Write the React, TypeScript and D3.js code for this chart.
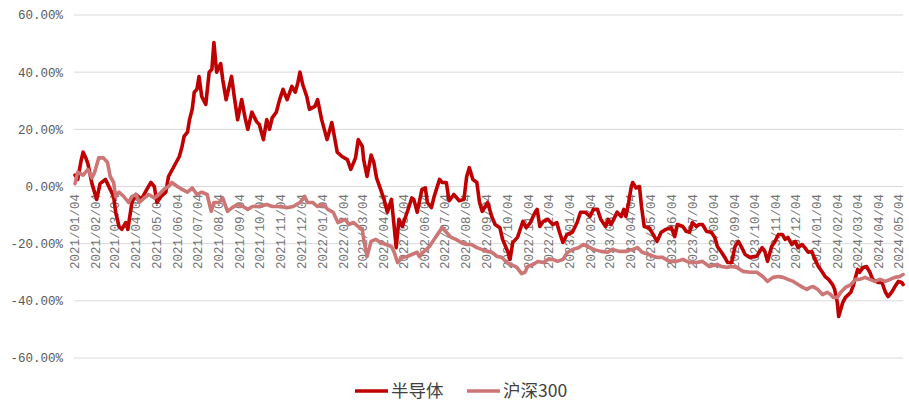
import React from "react";
import * as d3 from "d3";

const seriesNames = ["半导体", "沪深300"];

const semiconductor: [string, number][] = [
  ["2021-01-04", 4], ["2021-01-08", 2.5], ["2021-01-13", 9], ["2021-01-16", 12], ["2021-01-20", 10],
  ["2021-01-23", 8], ["2021-01-29", 1], ["2021-02-05", -4.5], ["2021-02-10", 1], ["2021-02-18", 2.5],
  ["2021-02-25", -1], ["2021-03-02", -3.5], ["2021-03-05", -9], ["2021-03-10", -14], ["2021-03-14", -15],
  ["2021-03-20", -12.6], ["2021-03-23", -15], ["2021-03-29", -5.6], ["2021-04-04", -2.8], ["2021-04-12", -4.5],
  ["2021-04-20", -1], ["2021-04-26", 1.4], ["2021-05-01", 0], ["2021-05-05", -5.6], ["2021-05-11", -3.5],
  ["2021-05-18", -2], ["2021-05-22", 3.5], ["2021-05-30", 7], ["2021-06-07", 10.5], ["2021-06-11", 14],
  ["2021-06-14", 17.5], ["2021-06-19", 19], ["2021-06-22", 23.4], ["2021-06-26", 27], ["2021-06-29", 33],
  ["2021-07-03", 34], ["2021-07-06", 38.5], ["2021-07-10", 31.5], ["2021-07-16", 28.7], ["2021-07-21", 40],
  ["2021-07-25", 41], ["2021-07-28", 50.4], ["2021-08-01", 40], ["2021-08-07", 43], ["2021-08-10", 37.4],
  ["2021-08-15", 30.4], ["2021-08-23", 38.5], ["2021-08-27", 31.5], ["2021-09-01", 23.4], ["2021-09-07", 30.4],
  ["2021-09-12", 24], ["2021-09-16", 20], ["2021-09-22", 26], ["2021-09-29", 22.7], ["2021-10-03", 21.7],
  ["2021-10-09", 16.4], ["2021-10-14", 23.4], ["2021-10-18", 20], ["2021-10-22", 24], ["2021-10-28", 26],
  ["2021-11-02", 30.4], ["2021-11-07", 34], ["2021-11-13", 30.4], ["2021-11-20", 35], ["2021-11-25", 33],
  ["2021-11-29", 36.4], ["2021-12-02", 40], ["2021-12-06", 35.7], ["2021-12-12", 31.5], ["2021-12-16", 27],
  ["2021-12-24", 28], ["2021-12-28", 30.4], ["2022-01-03", 23.4], ["2022-01-11", 16.4], ["2022-01-18", 22.4],
  ["2022-01-26", 12], ["2022-02-02", 10.5], ["2022-02-10", 9.4], ["2022-02-15", 6], ["2022-02-22", 10],
  ["2022-02-26", 16.4], ["2022-03-04", 14], ["2022-03-06", 9.4], ["2022-03-11", 3.5], ["2022-03-17", 11],
  ["2022-03-21", 8.4], ["2022-03-25", 3], ["2022-03-31", -1], ["2022-04-05", -4.5], ["2022-04-10", -9],
  ["2022-04-16", -4.5], ["2022-04-20", -14], ["2022-04-23", -21.4], ["2022-04-27", -11.5], ["2022-05-02", -14],
  ["2022-05-07", -10.5], ["2022-05-12", -7], ["2022-05-16", -4], ["2022-05-19", -4.5], ["2022-05-24", -9],
  ["2022-05-31", -1], ["2022-06-05", -0.5], ["2022-06-08", -5.6], ["2022-06-14", -7.4], ["2022-06-18", -3.5],
  ["2022-06-26", 2.5], ["2022-06-30", 1.4], ["2022-07-06", 1.4], ["2022-07-10", -5], ["2022-07-17", -2.8],
  ["2022-07-25", -5], ["2022-08-01", -4.5], ["2022-08-05", 3.5], ["2022-08-09", 6.6], ["2022-08-14", 2.5],
  ["2022-08-20", 1.4], ["2022-08-24", -5.6], ["2022-08-28", -8.7], ["2022-09-05", -5.6], ["2022-09-11", -10.5],
  ["2022-09-16", -13.3], ["2022-09-23", -14.4], ["2022-09-27", -18.5], ["2022-10-05", -23], ["2022-10-08", -25.5],
  ["2022-10-12", -19.6], ["2022-10-19", -17.8], ["2022-10-27", -12.2], ["2022-11-01", -14.4], ["2022-11-07", -12.6],
  ["2022-11-14", -9], ["2022-11-17", -8], ["2022-11-21", -14], ["2022-11-26", -12.2], ["2022-12-03", -11.5],
  ["2022-12-10", -13.3], ["2022-12-16", -12.6], ["2022-12-20", -16], ["2022-12-25", -19.6], ["2022-12-31", -16.8],
  ["2023-01-08", -16], ["2023-01-15", -12.6], ["2023-01-20", -9], ["2023-01-27", -9], ["2023-02-03", -10.5],
  ["2023-02-08", -8], ["2023-02-14", -8], ["2023-02-19", -11.5], ["2023-02-26", -14], ["2023-03-02", -11.5],
  ["2023-03-06", -13.3], ["2023-03-10", -11.5], ["2023-03-15", -9], ["2023-03-21", -10.5], ["2023-03-25", -8],
  ["2023-03-28", -10.5], ["2023-04-01", -5.6], ["2023-04-05", 0], ["2023-04-07", 1.4], ["2023-04-12", -0.5],
  ["2023-04-17", 0], ["2023-04-20", -7], ["2023-04-24", -14], ["2023-05-01", -14.4], ["2023-05-09", -17.5],
  ["2023-05-13", -19.2], ["2023-05-19", -16], ["2023-05-26", -15], ["2023-06-03", -14.4], ["2023-06-08", -17.5],
  ["2023-06-12", -13.3], ["2023-06-20", -14], ["2023-06-25", -15.7], ["2023-06-30", -16], ["2023-07-04", -12.6],
  ["2023-07-10", -14], ["2023-07-14", -13.3], ["2023-07-19", -13.3], ["2023-07-25", -15.7], ["2023-08-01", -16],
  ["2023-08-06", -17.8], ["2023-08-10", -21], ["2023-08-16", -23], ["2023-08-21", -24.8], ["2023-08-25", -26.6],
  ["2023-08-31", -26.6], ["2023-09-05", -21], ["2023-09-10", -19.2], ["2023-09-15", -21.4], ["2023-09-20", -23.8],
  ["2023-09-27", -24.8], ["2023-10-07", -24.4], ["2023-10-15", -21.4], ["2023-10-19", -22.7], ["2023-10-23", -26.2],
  ["2023-10-29", -21], ["2023-11-03", -19.2], ["2023-11-08", -16.8], ["2023-11-14", -16.8], ["2023-11-18", -18.5],
  ["2023-11-22", -17.8], ["2023-11-28", -20.3], ["2023-12-03", -19.2], ["2023-12-07", -21.4], ["2023-12-13", -20.3],
  ["2023-12-17", -21.4], ["2023-12-22", -23], ["2023-12-27", -22.7], ["2024-01-01", -25.5], ["2024-01-06", -28],
  ["2024-01-12", -30], ["2024-01-16", -31.5], ["2024-01-21", -32.5], ["2024-01-27", -34.3], ["2024-01-30", -36],
  ["2024-02-03", -40.6], ["2024-02-05", -45.5], ["2024-02-11", -40.6], ["2024-02-15", -38.8], ["2024-02-23", -37],
  ["2024-02-27", -34.3], ["2024-03-04", -29], ["2024-03-07", -30], ["2024-03-12", -28.3], ["2024-03-17", -28],
  ["2024-03-22", -30], ["2024-03-26", -32.5], ["2024-04-03", -33.6], ["2024-04-09", -33.6], ["2024-04-14", -37],
  ["2024-04-18", -38.5], ["2024-04-24", -36.7], ["2024-04-28", -35], ["2024-05-03", -33.2], ["2024-05-08", -33.6],
  ["2024-05-10", -34.3],
];

const csi300: [string, number][] = [
  ["2021-01-04", 1], ["2021-01-08", 5], ["2021-01-16", 4], ["2021-01-23", 6], ["2021-01-29", 3],
  ["2021-02-02", 5], ["2021-02-08", 10], ["2021-02-15", 10], ["2021-02-21", 8.4], ["2021-02-25", 3.5],
  ["2021-03-02", 1.4], ["2021-03-05", -3.5], ["2021-03-10", -2], ["2021-03-17", -3.5], ["2021-03-24", -5.6],
  ["2021-03-29", -3.5], ["2021-04-04", -2.8], ["2021-04-09", -5.6], ["2021-04-16", -4], ["2021-04-23", -2.8],
  ["2021-05-01", -4], ["2021-05-08", -2.8], ["2021-05-15", -1], ["2021-05-22", 0], ["2021-05-27", 1.4],
  ["2021-06-04", 0], ["2021-06-11", -1], ["2021-06-19", -2], ["2021-06-26", -0.5], ["2021-07-03", -2.8],
  ["2021-07-10", -2], ["2021-07-18", -2.8], ["2021-07-24", -8.7], ["2021-07-28", -5.6], ["2021-08-05", -5.6],
  ["2021-08-10", -4], ["2021-08-17", -8.7], ["2021-08-24", -7.4], ["2021-09-01", -6.3], ["2021-09-09", -7],
  ["2021-09-16", -8], ["2021-09-23", -7], ["2021-10-03", -7], ["2021-10-14", -6.3], ["2021-10-22", -7],
  ["2021-11-02", -7], ["2021-11-13", -7.4], ["2021-11-22", -7], ["2021-12-02", -5.6], ["2021-12-09", -3.5],
  ["2021-12-13", -5.6], ["2021-12-21", -5.6], ["2021-12-28", -7], ["2022-01-05", -6.3], ["2022-01-12", -8],
  ["2022-01-20", -9], ["2022-01-27", -12.6], ["2022-02-07", -11.5], ["2022-02-12", -13.3], ["2022-02-19", -12.6],
  ["2022-02-26", -14], ["2022-03-04", -15], ["2022-03-06", -18.5], ["2022-03-11", -24.5], ["2022-03-17", -19.2],
  ["2022-03-24", -18.5], ["2022-03-31", -19.6], ["2022-04-08", -20.3], ["2022-04-16", -21], ["2022-04-20", -23],
  ["2022-04-25", -26.6], ["2022-05-02", -24.8], ["2022-05-09", -24.5], ["2022-05-16", -23.8], ["2022-05-24", -23],
  ["2022-05-27", -24.5], ["2022-06-03", -22.7], ["2022-06-11", -21], ["2022-06-18", -18.5], ["2022-06-26", -15.7],
  ["2022-06-30", -14.4], ["2022-07-06", -16], ["2022-07-13", -17.8], ["2022-07-20", -18.5], ["2022-07-28", -19.6],
  ["2022-08-05", -20.3], ["2022-08-12", -20.3], ["2022-08-20", -21.4], ["2022-08-27", -22], ["2022-09-04", -22.7],
  ["2022-09-11", -23], ["2022-09-19", -24.5], ["2022-09-26", -24.8], ["2022-10-03", -26.6], ["2022-10-10", -27.3],
  ["2022-10-18", -28.3], ["2022-10-25", -30.5], ["2022-10-30", -30], ["2022-11-03", -28], ["2022-11-11", -27.3],
  ["2022-11-18", -26.2], ["2022-11-26", -26.6], ["2022-12-03", -25.5], ["2022-12-10", -25.5], ["2022-12-17", -26.2],
  ["2022-12-25", -25.5], ["2023-01-01", -23], ["2023-01-09", -22], ["2023-01-17", -21.4], ["2023-01-24", -20.3],
  ["2023-01-31", -21], ["2023-02-08", -22], ["2023-02-19", -22.7], ["2023-03-01", -23], ["2023-03-08", -22],
  ["2023-03-18", -22.7], ["2023-03-28", -22.7], ["2023-04-07", -22], ["2023-04-14", -21.4], ["2023-04-21", -23],
  ["2023-05-01", -23.8], ["2023-05-12", -24.8], ["2023-05-21", -24.8], ["2023-05-31", -26.2], ["2023-06-11", -26.2],
  ["2023-06-20", -25.5], ["2023-06-30", -26.6], ["2023-07-10", -26.6], ["2023-07-19", -26.2], ["2023-07-29", -28],
  ["2023-08-09", -27.3], ["2023-08-16", -28], ["2023-08-24", -28.3], ["2023-08-31", -28], ["2023-09-08", -28.3],
  ["2023-09-17", -29.7], ["2023-09-27", -30], ["2023-10-07", -30], ["2023-10-16", -31.5], ["2023-10-23", -33.2],
  ["2023-10-31", -31.8], ["2023-11-08", -31.5], ["2023-11-15", -31.8], ["2023-11-22", -32.5], ["2023-11-30", -33.2],
  ["2023-12-07", -34.3], ["2023-12-14", -35.3], ["2023-12-20", -36], ["2023-12-25", -35.3], ["2023-12-29", -35],
  ["2024-01-05", -36], ["2024-01-12", -37.8], ["2024-01-19", -37], ["2024-01-24", -37.8], ["2024-01-28", -38.8],
  ["2024-02-03", -38.8], ["2024-02-08", -37], ["2024-02-15", -35.3], ["2024-02-23", -34.3], ["2024-03-01", -32.5],
  ["2024-03-07", -32.5], ["2024-03-15", -31.8], ["2024-03-22", -32.5], ["2024-03-29", -33.2], ["2024-04-06", -32.5],
  ["2024-04-14", -33.2], ["2024-04-21", -32.5], ["2024-04-28", -31.8], ["2024-05-05", -31.5], ["2024-05-10", -30.8],
];

const xTickLabels = [
  "2021/01/04", "2021/02/04", "2021/03/04", "2021/04/04", "2021/05/04", "2021/06/04", "2021/07/04",
  "2021/08/04", "2021/09/04", "2021/10/04", "2021/11/04", "2021/12/04", "2022/01/04", "2022/02/04",
  "2022/03/04", "2022/04/04", "2022/05/04", "2022/06/04", "2022/07/04", "2022/08/04", "2022/09/04",
  "2022/10/04", "2022/11/04", "2022/12/04", "2023/01/04", "2023/02/04", "2023/03/04", "2023/04/04",
  "2023/05/04", "2023/06/04", "2023/07/04", "2023/08/04", "2023/09/04", "2023/10/04", "2023/11/04",
  "2023/12/04", "2024/01/04", "2024/02/04", "2024/03/04", "2024/04/04", "2024/05/04",
];

const yTicks = [60, 40, 20, 0, -20, -40, -60];

const colors = ["#c00000", "#cc7676"];

const W = 909;
const H = 403;

export default function App() {
  const parse = d3.timeParse("%Y-%m-%d");
  const parseTick = d3.timeParse("%Y/%m/%d");
  const x = d3
    .scaleTime()
    .domain([parse("2021-01-04")!, parse("2024-05-04")!])
    .range([75, 899]);
  const y = d3.scaleLinear().domain([-60, 60]).range([358, 15]);

  const line = d3
    .line<[string, number]>()
    .x((d) => x(parse(d[0])!))
    .y((d) => y(d[1]));

  const axisFont = "'Liberation Mono', 'DejaVu Sans Mono', monospace";
  const cjkFont = "'Noto Sans CJK SC', 'Noto Sans', sans-serif";

  const legendY = 391;
  const legendItems = [
    { x0: 355, x1: 388, tx: 391 },
    { x0: 467, x1: 500, tx: 503 },
  ];

  return (
    <div style={{ position: "absolute", left: 0, top: 0 }}>
      <svg width={W} height={H} style={{ display: "block", background: "#fff" }}>
        {yTicks.map((t) => (
          <g key={t}>
            <line x1={74} x2={903} y1={y(t)} y2={y(t)} stroke="#d9d9d9" strokeWidth={1} />
            <text
              x={63}
              y={y(t)}
              dy="0.35em"
              textAnchor="end"
              fontFamily={axisFont}
              fontSize={12.5}
              fill="#595959"
            >
              {t.toFixed(2) + "%"}
            </text>
          </g>
        ))}
        {xTickLabels.map((lab) => {
          const px = x(parseTick(lab)!);
          return (
            <text
              key={lab}
              transform={`translate(${px},${194}) rotate(-90)`}
              dy="0.35em"
              textAnchor="end"
              fontFamily={axisFont}
              fontSize={12.5}
              fill="#737373"
            >
              {lab}
            </text>
          );
        })}
        <path
          d={line(semiconductor) || ""}
          fill="none"
          stroke={colors[0]}
          strokeWidth={3.6}
          strokeLinejoin="round"
          strokeLinecap="round"
        />
        <path
          d={line(csi300) || ""}
          fill="none"
          stroke={colors[1]}
          strokeWidth={3.6}
          strokeLinejoin="round"
          strokeLinecap="round"
        />
        {legendItems.map((it, i) => (
          <g key={i}>
            <line x1={it.x0} x2={it.x1} y1={legendY} y2={legendY} stroke={colors[i]} strokeWidth={3.5} />
            <text
              x={it.tx}
              y={legendY}
              dy="0.35em"
              fontFamily={cjkFont}
              fontSize={17.5}
              fill="#404040"
            >
              {seriesNames[i]}
            </text>
          </g>
        ))}
      </svg>
    </div>
  );
}
